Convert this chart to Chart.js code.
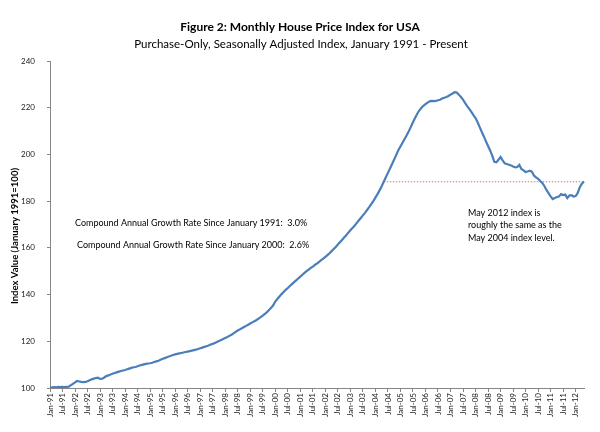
<!DOCTYPE html>
<html>
<head>
<meta charset="utf-8">
<script src="https://cdn.jsdelivr.net/npm/chart.js@4.4.0/dist/chart.umd.min.js"></script>
<style>
  html, body { margin: 0; padding: 0; background: #fff; }
</style>
</head>
<body>
<canvas id="hpiChart" width="600" height="432"></canvas>
<script>
// Monthly purchase-only HPI (Jan 1991 = 100)
const hpi1990s = [
  100.0, 100.3, 100.4, 100.3, 100.5, 100.4, 100.5, 100.4, 100.5, 100.6, 101.2, 101.8, // 1991
  102.4, 103.0, 102.8, 102.6, 102.5, 102.6, 102.9, 103.3, 103.7, 104.0, 104.3, 104.4, // 1992
  103.9, 104.0, 104.5, 105.1, 105.4, 105.8, 106.1, 106.4, 106.7, 107.0, 107.3, 107.5, // 1993
  107.7, 108.0, 108.3, 108.6, 108.9, 109.0, 109.3, 109.6, 109.9, 110.1, 110.3, 110.5, // 1994
  110.6, 110.8, 111.1, 111.4, 111.7, 112.1, 112.5, 112.8, 113.2, 113.5, 113.8, 114.1, // 1995
  114.4, 114.6, 114.8, 115.0, 115.2, 115.4, 115.6, 115.8, 116.0, 116.2, 116.4, 116.7, // 1996
  117.0, 117.3, 117.6, 117.9, 118.2, 118.6, 118.9, 119.3, 119.7, 120.1, 120.5, 121.0, // 1997
  121.4, 121.8, 122.3, 122.8, 123.4, 124.0, 124.6, 125.1, 125.6, 126.1, 126.6, 127.1, // 1998
  127.6, 128.1, 128.6, 129.1, 129.7, 130.3, 131.0, 131.7, 132.5, 133.4, 134.3, 135.4  // 1999
];
const hpi2000s = [
  137.0, 138.1, 139.2, 140.2, 141.1, 142.0, 142.8, 143.7, 144.5, 145.3, 146.1, 146.9, // 2000
  147.7, 148.5, 149.3, 150.0, 150.7, 151.4, 152.0, 152.7, 153.3, 154.0, 154.7, 155.4, // 2001
  156.1, 156.9, 157.7, 158.6, 159.5, 160.4, 161.4, 162.4, 163.4, 164.4, 165.4, 166.5, // 2002
  167.5, 168.5, 169.5, 170.6, 171.7, 172.8, 173.9, 175.0, 176.2, 177.4, 178.7, 180.0, // 2003
  181.5, 183.0, 184.6, 186.4, 188.3, 190.2, 192.1, 194.0, 195.9, 197.8, 199.8, 201.8, // 2004
  203.4, 205.0, 206.6, 208.2, 209.9, 211.8, 213.8, 215.6, 217.3, 218.8, 219.9, 220.8, // 2005
  221.5, 222.2, 222.7, 222.9, 222.8, 222.9, 223.2, 223.4, 223.9, 224.3, 224.6, 225.0, // 2006
  225.6, 226.1, 226.7, 226.5, 225.6, 224.6, 223.5, 222.0, 220.7, 219.5, 218.2, 216.8, // 2007
  215.6, 213.8, 211.7, 209.6, 207.7, 205.6, 203.6, 201.7, 199.5, 196.8, 196.6, 197.7, // 2008
  198.9, 197.5, 196.2, 195.9, 195.6, 195.3, 194.8, 194.5, 194.6, 195.5, 193.8, 193.2  // 2009
];
const hpi2010s = [
  192.5, 192.7, 193.0, 192.6, 191.0, 190.2, 189.6, 188.6, 187.8, 186.5, 184.8, 183.4, // 2010
  182.0, 180.9, 181.3, 181.8, 182.0, 183.0, 182.6, 182.8, 181.3, 182.4, 182.6, 182.0, // 2011
  182.2, 183.5, 186.0, 187.5, 188.4                                                  // 2012 (Jan-May)
];
const hpi = [...hpi1990s, ...hpi2000s, ...hpi2010s];

// category labels, one per month
const monthNames = ['Jan', 'Feb', 'Mar', 'Apr', 'May', 'Jun', 'Jul', 'Aug', 'Sep', 'Oct', 'Nov', 'Dec'];
const labels = hpi.map((v, i) => {
  const yr = 1991 + Math.floor(i / 12);
  return monthNames[i % 12] + '-' + String(yr).slice(2);
});

// dotted reference: May 2004 level carried to May 2012
const refLevel = 188.3;
const refFrom = 'May-04';
const refTo = 'May-12';

const yTicks = [100, 120, 140, 160, 180, 200, 220, 240];

const titleText = 'Figure 2: Monthly House Price Index for USA';
const subtitleText = 'Purchase-Only, Seasonally Adjusted Index, January 1991 - Present';
const yTitle = 'Index Value (January 1991=100)';
const growthNotes = [
  'Compound Annual Growth Rate Since January 1991:  3.0%',
  'Compound Annual Growth Rate Since January 2000:  2.6%'
];
const mayNote = ['May 2012 index is', 'roughly the same as the', 'May 2004 index level.'];

const FONT = 'Lato';

// title, axis title and the text boxes
const notesPlugin = {
  id: 'notes',
  afterDraw(chart) {
    const ctx = chart.ctx;
    ctx.save();
    ctx.fillStyle = '#000';
    ctx.textBaseline = 'middle';
    ctx.textAlign = 'center';
    ctx.font = 'bold 12px ' + FONT;
    ctx.fillText(titleText, 300, 27);
    ctx.font = '11.5px ' + FONT;
    ctx.fillText(subtitleText, 301, 44);

    ctx.save();
    ctx.translate(15, 236);
    ctx.rotate(-Math.PI / 2);
    ctx.font = 'bold 9.5px ' + FONT;
    ctx.fillText(yTitle, 0, 0);
    ctx.restore();

    ctx.textAlign = 'left';
    ctx.font = '9px ' + FONT;
    ctx.fillText(growthNotes[0], 75, 223);
    ctx.fillText(growthNotes[1], 77, 245);
    mayNote.forEach((t, i) => ctx.fillText(t, 468, 213 + i * 12.5));
    ctx.restore();
  }
};

const ctx = document.getElementById('hpiChart').getContext('2d');
new Chart(ctx, {
  type: 'line',
  data: {
    labels: labels,
    datasets: [
      {
        data: hpi,
        borderColor: '#4a7ebb',
        borderWidth: 2.2,
        pointRadius: 0,
        tension: 0
      },
      {
        data: [{ x: refFrom, y: refLevel }, { x: refTo, y: refLevel }],
        borderColor: '#e07070',
        borderWidth: 1,
        borderDash: [1.5, 1.5],
        pointRadius: 0
      }
    ]
  },
  options: {
    responsive: false,
    animation: false,
    layout: { padding: { top: 61, right: 16, left: 0, bottom: 0 } },
    plugins: {
      legend: { display: false },
      tooltip: { enabled: false }
    },
    scales: {
      x: {
        type: 'category',
        offset: false,
        ticks: {
          autoSkip: false,
          minRotation: 90,
          maxRotation: 90,
          padding: 1,
          color: '#222',
          font: { family: FONT, size: 8 },
          callback: function (v, i) {
            return i % 6 === 0 ? this.getLabelForValue(v) : '';
          }
        },
        grid: {
          drawOnChartArea: false,
          tickLength: 4,
          color: c => (c.index % 6 === 0 ? '#868686' : 'rgba(0,0,0,0)')
        },
        border: { color: '#868686' },
        afterFit(s) { s.height = 44; }
      },
      y: {
        min: 100,
        max: 240,
        afterBuildTicks(s) { s.ticks = yTicks.map(v => ({ value: v })); },
        ticks: {
          padding: 12,
          color: '#222',
          font: { family: FONT, size: 8 }
        },
        grid: {
          drawOnChartArea: false,
          tickLength: 3,
          color: '#868686'
        },
        border: { color: '#868686' },
        afterFit(s) { s.width = 50; }
      }
    }
  },
  plugins: [notesPlugin]
});
</script>
</body>
</html>
